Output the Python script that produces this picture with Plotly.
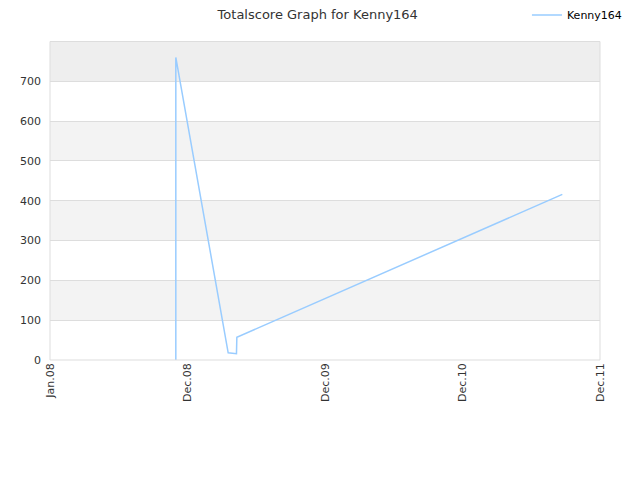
import plotly.graph_objects as go

dates = ["2008-11-30", "2008-11-30", "2009-04-18", "2009-05-10", "2009-05-11", "2011-09-22"]
scores = [0, 760, 18, 16, 57, 416]

tick_vals = ["2008-01-01", "2008-12-31", "2009-12-31", "2010-12-31", "2011-12-31"]
tick_text = ["Jan.08", "Dec.08", "Dec.09", "Dec.10", "Dec.11"]
y_ticks = [0, 100, 200, 300, 400, 500, 600, 700]

fig = go.Figure()
fig.add_trace(go.Scatter(x=dates, y=scores, mode="lines", name="Kenny164",
                         line=dict(color="#99ccff", width=1.5)))

shapes = []
band_colors = {100: "#f3f3f3", 300: "#f3f3f3", 500: "#f3f3f3", 700: "#eeeeee"}
for y0, c in band_colors.items():
    shapes.append(dict(type="rect", xref="paper", yref="y", x0=0, x1=1, y0=y0, y1=y0 + 100,
                       fillcolor=c, line=dict(width=0), layer="below"))
shapes.append(dict(type="rect", xref="paper", yref="paper", x0=0, x1=1, y0=0, y1=1,
                   line=dict(color="#dddddd", width=1), fillcolor="rgba(0,0,0,0)"))

fig.update_layout(
    width=640, height=480,
    margin=dict(l=42, r=48, t=32, b=128),
    paper_bgcolor="white", plot_bgcolor="white",
    font=dict(family="DejaVu Sans", size=11, color="#333333"),
    title=dict(text="Totalscore Graph for Kenny164", xref="container", x=0.484, xanchor="center",
               yref="container", y=0.9875, yanchor="middle",
               font=dict(family="DejaVu Sans", size=13, color="#333333")),
    showlegend=True,
    legend=dict(xref="paper", x=1.049, xanchor="right", yref="container", y=0.9854, yanchor="middle",
                itemwidth=30, font=dict(size=11, color="#000000"), bgcolor="rgba(0,0,0,0)"),
    shapes=shapes,
    xaxis=dict(type="date", range=["2008-01-01", "2011-12-31"], tickvals=tick_vals, ticktext=tick_text,
               tickangle=-90, showgrid=False, zeroline=False, showline=False, ticks="",
               tickfont=dict(size=11, color="#333333")),
    yaxis=dict(range=[0, 800], tickvals=y_ticks, showgrid=True, gridcolor="#dddddd", gridwidth=1,
               zeroline=False, showline=False, ticks="", ticklabelstandoff=8,
               tickfont=dict(size=11, color="#333333")),
)

fig.write_html("out.html")
